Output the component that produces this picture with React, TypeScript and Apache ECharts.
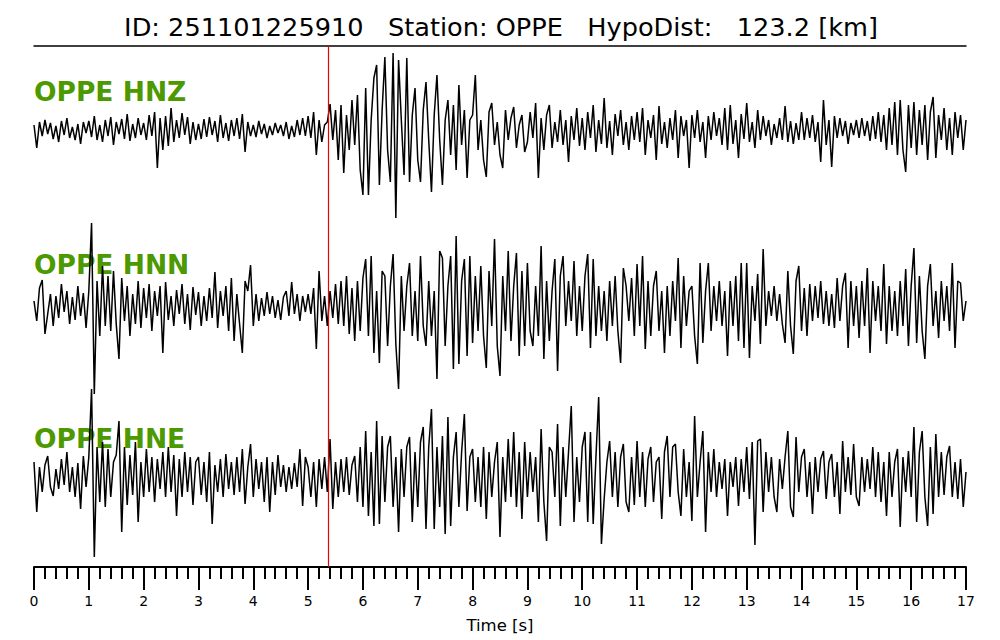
import React, { useEffect, useRef } from "react";
import * as echarts from "echarts";

// ---- chart data (in screen-pixel-like units, up = positive) ----
const DT = 0.05; // seconds between samples
const T_MAX = 17;
const PICK_TIME = 5.36; // red pick line [s]
const TITLE = "ID: 251101225910   Station: OPPE   HypoDist:   123.2 [km]";
const CHANNELS = ["OPPE HNZ", "OPPE HNN", "OPPE HNE"];
const TICK_LABELS = ["0","1","2","3","4","5","6","7","8","9","10","11","12","13","14","15","16","17"];

const HNZ = [
  5, -18, 8, -6, 10, -4, 7, -9, 4, -12, 9, -5, 12, -8, 3, -10, 6, -14, 8, -3,
  9, -7, 14, -10, 5, -12, 10, -6, 13, -15, 8, -4, 11, -9, 16, -11, 6, -8, 12, -5,
  7, -10, 15, -6, 18, -38, 12, -20, 14, -16, 22, -12, 10, -8, 17, -5, 13, -14, 8, -10,
  6, -9, 11, -7, 13, -5, 9, -12, 15, -8, 7, -11, 10, -6, 12, -9, 16, -22, 8, -6,
  5, -7, 9, -4, 6, -8, 4, -5, 7, -3, 5, -6, 8, -9, 4, -7, 10, -5, 12, -6,
  14, -8, 18, -25, 10, -12, 5, 8, 26, -10, 20, -30, 25, -43, 15, -20, 30, -15, 35, -40,
  -65, 42, -65, 10, 52, 65, -55, 20, 73, -20, -52, 77, -88, 70, 10, -45, 72, -52, 15, 42,
  -30, -52, 20, 48, -10, -62, 15, 55, -10, -55, 10, 30, -25, 25, -40, 45, -15, 20, -48, 10,
  15, 55, -20, 10, -30, -47, 18, 27, -15, 8, -25, -38, 20, -10, 12, 23, -18, 5, 15, -22,
  -12, 18, -8, 27, -48, 12, -20, 15, 25, -18, 8, -12, 20, -15, 10, -32, 14, -10, 22, -16,
  12, -20, 18, -8, 25, -22, 10, -14, 32, -18, 9, -25, 16, -6, 20, -15, 8, -20, 14, -10,
  18, -12, 22, -25, 10, -8, 15, -30, 24, -14, 8, -18, 12, -10, 20, -28, 14, -6, 10, -38,
  15, -8, 20, -12, 8, -28, 14, -10, 18, -6, 12, -15, 22, -20, 25, -14, 10, -28, 16, -9,
  27, -12, 8, -18, 20, -10, 14, -6, 10, -15, 6, -8, 12, -10, 24, -12, 9, -14, 7, -10,
  18, -10, 12, -8, 15, -12, 8, -32, 30, -15, 10, -37, 14, -8, 12, -6, 9, -14, 7, -5,
  10, -8, 12, -6, 9, -11, 14, -9, 18, -12, 15, -20, 22, -15, 28, -25, 30, -20, -42, 25,
  -18, 28, -25, 20, -15, 25, -30, 18, 33, -28, 15, -10, 22, -20, 12, -25, 18, -8, 15, -20,
  10,
];

const HNN = [
  5, -15, 18, 26, -28, -8, 12, -20, 10, -12, 22, -6, 15, -18, 9, -14, 20, -10, 13, -22,
  15, 83, -88, 25, -30, 40, -20, 30, -25, 35, -18, -53, 28, -15, 20, -30, 12, -18, 25, -22,
  18, -12, 22, -25, 15, -10, 20, -47, 24, -14, 10, -20, 16, -8, 22, -18, 12, -24, 19, -9,
  14, -20, 10, -15, 18, -12, 34, -22, 15, -10, 20, -25, 28, -35, 12, -18, -47, 25, 15, 41,
  -20, 12, -15, 8, -10, 14, -8, 10, -12, 6, -14, 9, 15, -10, 24, -8, 12, -15, 10, -6,
  12, -8, 18, -43, 35, -15, 10, -20, 15, -12, 22, -18, 25, -20, 30, -28, 18, -35, 25, -25,
  28, 47, -30, 50, -47, 15, -57, 35, 30, -40, 20, 52, -38, -83, 30, -25, 20, 43, -30, 15,
  -35, 50, -20, -40, 25, -30, 15, -73, 55, 48, -40, 20, 50, -63, 70, -58, 25, 47, -50, 50,
  -37, 30, -25, 40, -30, -62, 35, -20, 67, -40, -70, 30, -25, 55, -35, 20, 53, -50, 35, -40,
  43, -25, -40, 20, -30, 60, -53, 25, -35, 15, 47, -65, 30, 50, -20, 25, -15, 45, -30, 20,
  -25, 30, 52, -42, 47, -30, 20, -25, 15, -35, 25, -20, 30, -25, -57, 38, 20, -15, 28, -30,
  42, -20, 50, -43, 25, -30, 20, 35, -25, 15, -47, 20, -30, 25, -15, 48, -42, 30, -20, 15,
  20, -30, -58, 43, -37, 15, 43, -25, 20, -15, 25, -20, 15, -50, 25, -20, 30, -35, 43, -42,
  43, -52, 20, -15, 32, -38, 57, -20, 15, -10, 20, -15, 12, -18, -37, 35, -20, -48, 25, 40,
  -25, 18, -30, 22, -15, 20, -12, 25, -18, 15, -20, 12, -22, 28, -15, 20, 33, -42, 25, -20,
  20, -32, 25, -20, 38, -47, 25, -15, 20, -25, 42, -38, 20, -25, 15, -30, 25, -20, 37, -40,
  20, 58, -37, 30, -25, -53, 20, 42, -20, 15, -32, 25, -15, 20, -25, 43, -42, 25, 23, -15,
  5,
];

const HNE = [
  15, -35, 10, -15, 12, 21, -10, -19, 8, -12, 18, -8, 25, -15, 10, -20, 14, -32, 21, -10,
  20, 88, -80, 30, -25, 35, -30, 28, -20, 15, 22, 56, -55, 30, -28, 22, -18, 35, -45, 15,
  -20, 28, -15, 20, -25, 18, -12, 25, -20, 30, -15, 22, -39, 18, -20, 25, -15, 20, -28, 15,
  20, -18, 15, -25, 25, -47, 12, -15, 18, -20, 23, -12, 15, -18, 20, -15, 28, -27, 10, 33,
  -20, 18, -12, 15, -25, 20, -35, 15, -18, 22, -10, 12, -15, 10, -12, 14, -10, 28, -29, 20,
  10, -20, 15, -30, 18, -12, 20, -15, 38, -32, 15, -20, 18, -15, 20, -18, 12, 21, -25, 30,
  -30, 46, -39, 25, -49, 56, -47, 41, -25, 30, 41, -30, 20, -55, 28, -20, 30, 40, -45, 25,
  -30, 35, 50, -52, 30, 68, -52, 30, -30, 41, -57, 60, -49, 20, 45, -30, 25, 63, -34, 20,
  28, -25, 20, -30, 30, -42, 25, -20, 15, 35, -60, 20, -25, 38, -20, 45, -30, 25, -42, 35,
  -20, 25, -15, 20, -45, 48, -25, -64, 30, 25, -20, 53, -49, 30, -20, 25, 71, -45, 20, -25,
  30, 45, -45, 45, -47, 20, 80, -67, -22, 15, 36, -20, 25, -30, 20, 33, -25, -35, 20, -28,
  36, -20, 25, -30, 18, 30, -25, 15, 20, -42, 25, 41, -20, 30, 33, -15, -39, 28, -20, 15,
  -44, 61, -20, 15, 46, -55, 25, -15, 28, -20, 15, -12, 18, -39, 15, -10, 20, -29, 18, -15,
  30, -22, 35, -68, 36, 38, -35, 25, -15, 20, -20, -35, 18, -12, 20, 46, -30, -40, 40, -15,
  20, 28, -20, 15, -37, 20, -15, 18, 26, -22, 15, 23, -20, 15, -37, 36, -15, 20, -18, 33,
  -20, -29, 20, -15, 18, -12, 30, -20, 25, -25, 15, -39, 25, -20, 15, 28, -50, 20, -15, 26,
  -20, 50, -45, 25, 46, -20, -49, 30, -37, 43, -20, 25, -18, 20, 31, -20, 15, -22, 18, -30,
  5,
];

const TRACES = [HNZ, HNN, HNE];

// ---- layout ----
const LEFT = 34;
const RIGHT = 34;
const TRACE_TOPS = [40, 216, 387];
const TRACE_H = 180;
const LABEL_Y = [91, 264, 438];
const FONT = "DejaVu Sans";

export default function App() {
  const ref = useRef<HTMLDivElement>(null);

  useEffect(() => {
    if (!ref.current) return;
    const chart = echarts.init(ref.current, undefined, { renderer: "svg" });

    const grids: any[] = TRACE_TOPS.map((top) => ({ left: LEFT, right: RIGHT, top, height: TRACE_H }));
    grids.push({ left: LEFT, right: RIGHT, top: 46, bottom: 640 - 567 });

    const xAxes: any[] = [0, 1, 2].map((i) => {
      const base: any = { type: "value", gridIndex: i, min: 0, max: T_MAX };
      if (i < 2) return { ...base, show: false };
      return {
        ...base,
        interval: 1,
        position: "bottom",
        axisLine: { show: true, onZero: false, lineStyle: { color: "#000", width: 2 } },
        axisTick: { show: true, inside: false, length: 23, lineStyle: { color: "#000", width: 2 } },
        minorTick: { show: true, splitNumber: 5, length: 12, lineStyle: { color: "#000", width: 2 } },
        splitLine: { show: false },
        axisLabel: {
          color: "#000",
          fontSize: 14,
          fontFamily: FONT,
          margin: 27,
          formatter: (v: number) => TICK_LABELS[Math.round(v)] ?? String(v),
        },
        name: "Time [s]",
        nameLocation: "middle",
        nameGap: 50,
        nameTextStyle: { color: "#000", fontSize: 16.5, fontFamily: FONT },
      };
    });
    xAxes.push({
      type: "value",
      gridIndex: 3,
      min: 0,
      max: T_MAX,
      position: "top",
      axisLine: { show: true, onZero: false, lineStyle: { color: "#000", width: 1.5 } },
      axisTick: { show: false },
      axisLabel: { show: false },
      splitLine: { show: false },
    });

    const yAxes: any[] = [0, 1, 2].map((i) => ({ type: "value", gridIndex: i, min: -90, max: 90, show: false }));
    yAxes.push({ type: "value", gridIndex: 3, min: 0, max: 1, show: false });

    const series: any[] = TRACES.map((vals, i) => ({
      type: "line",
      name: CHANNELS[i],
      xAxisIndex: i,
      yAxisIndex: i,
      data: vals.map((v, k) => [k * DT, v]),
      showSymbol: false,
      symbol: "none",
      clip: false,
      z: 3,
      lineStyle: { color: "#000", width: 1.5 },
    }));
    series.push({
      type: "line",
      xAxisIndex: 3,
      yAxisIndex: 3,
      data: [],
      z: 5,
      markLine: {
        silent: true,
        symbol: "none",
        label: { show: false },
        lineStyle: { color: "#e8000b", width: 1.2, type: "solid" },
        data: [{ xAxis: PICK_TIME }],
      },
    });

    const graphic: any[] = [
      {
        type: "text",
        x: 501,
        y: 27,
        z: 1,
        style: {
          text: TITLE,
          font: `25.6px "${FONT}"`,
          fill: "#000",
          textAlign: "center",
          textVerticalAlign: "middle",
        },
      },
      ...CHANNELS.map((c, i) => ({
        type: "text",
        x: LEFT,
        y: LABEL_Y[i],
        z: 1,
        style: {
          text: c,
          font: `bold 26.5px "${FONT}"`,
          fill: "#4c9900",
          textAlign: "left",
          textVerticalAlign: "middle",
        },
      })),
    ];

    chart.setOption({
      animation: false,
      backgroundColor: "#fff",
      grid: grids,
      xAxis: xAxes,
      yAxis: yAxes,
      series,
      graphic,
    });

    return () => chart.dispose();
  }, []);

  return (
    <div
      ref={ref}
      style={{ position: "fixed", left: 0, top: 0, width: 1000, height: 640, background: "#fff" }}
    />
  );
}
